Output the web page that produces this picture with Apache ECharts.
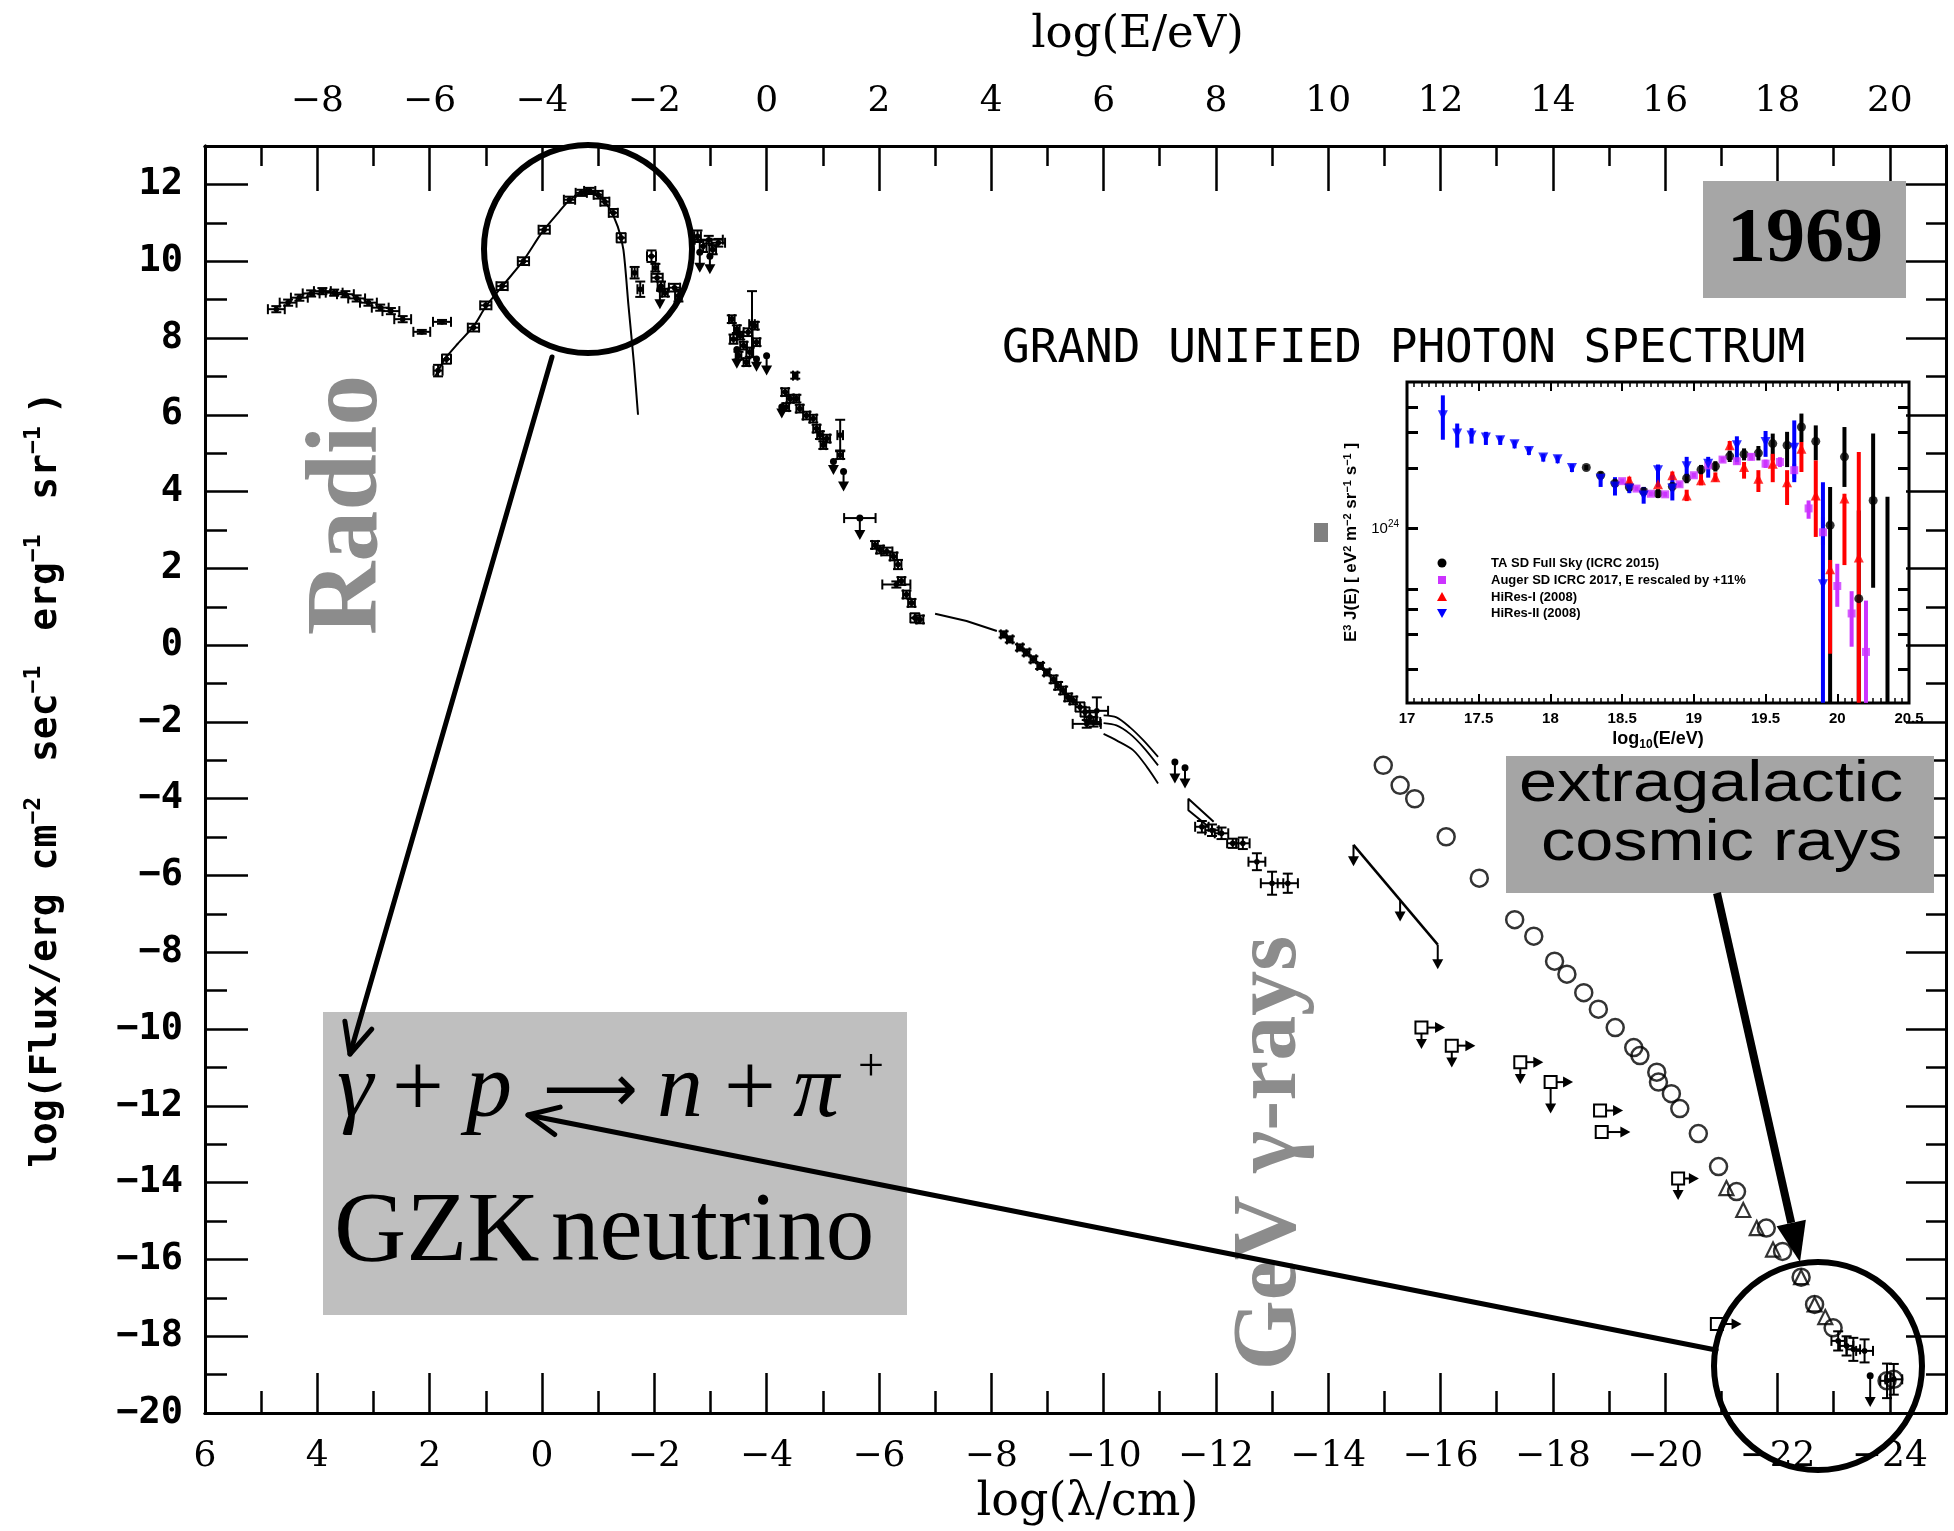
<!DOCTYPE html>
<html><head><meta charset="utf-8">
<script src="https://cdn.jsdelivr.net/npm/echarts@6/dist/echarts.min.js"></script>
<style>html,body{margin:0;padding:0;background:#fff}#c{width:1954px;height:1531px}</style>
</head><body><div id="c"></div>
<script>
// ---------------- tick values ----------------
const lambdaMajor = [6,4,2,0,-2,-4,-6,-8,-10,-12,-14,-16,-18,-20,-22,-24];
const lambdaMinor = [5,3,1,-1,-3,-5,-7,-9,-11,-13,-15,-17,-19,-21,-23,-25];
const energyMajor = [-10,-8,-6,-4,-2,0,2,4,6,8,10,12,14,16,18,20];
const energyLabels = [-8,-6,-4,-2,0,2,4,6,8,10,12,14,16,18,20];
const energyMinor = [-9,-7,-5,-3,-1,1,3,5,7,9,11,13,15,17,19,21];
const fluxMajor = [-20,-18,-16,-14,-12,-10,-8,-6,-4,-2,0,2,4,6,8,10,12];
const fluxMinor = [-19,-17,-15,-13,-11,-9,-7,-5,-3,-1,1,3,5,7,9,11,13];
const insetYTicks = [0.2,0.3,0.4,0.5,1,2,3,4]; // x 1e24

// ---------------- main data: [logλ, logFlux, dx, dy] ----------------
const radioPts = [[4.73,8.75,0.15,0.08],[4.52,8.92,0.15,0.08],[4.32,9.05,0.15,0.08],[4.11,9.16,0.15,0.08],[3.91,9.22,0.15,0.08],[3.70,9.18,0.15,0.08],[3.50,9.14,0.15,0.08],[3.30,9.03,0.15,0.08],[3.09,8.92,0.15,0.08],[2.88,8.79,0.15,0.08],[2.69,8.70,0.15,0.08],[2.48,8.49,0.15,0.08],[2.14,8.16,0.15,0.05],[1.78,8.42,0.16,0.05]];
const cmbPts = [[1.85,7.15,0.08,0.15],[1.70,7.45,0.08,0.12],[1.22,8.27,0.1,0.1],[1.0,8.85,0.1,0.1],[0.71,9.35,0.1,0.1],[0.33,10.0,0.1,0.1],[-0.04,10.82,0.1,0.1],[-0.49,11.6,0.1,0.08],[-0.70,11.78,0.1,0.08],[-0.85,11.83,0.1,0.08],[-1.0,11.73,0.08,0.1],[-1.12,11.55,0.08,0.1],[-1.27,11.26,0.08,0.1],[-1.41,10.61,0.08,0.12]];
const cmbCurve = [[1.90,7.0],[1.73,7.45],[1.50,7.85],[1.22,8.3],[1.0,8.82],[0.70,9.36],[0.33,10.02],[0.0,10.75],[-0.30,11.28],[-0.50,11.6],[-0.80,11.83],[-1.0,11.74],[-1.20,11.38],[-1.35,10.9],[-1.45,10.3],[-1.54,8.85],[-1.64,7.3],[-1.71,6.0]];
const irPts = [[-1.65,9.70,0.05,0.15],[-1.75,9.27,0.05,0.2],[-1.95,10.13,0.08,0.15],[-2.02,9.83,0.05,0.1],[-2.05,9.57,0.1,0.1],[-2.12,9.35,0.06,0.12],[-2.19,9.18,0.05,0.1],[-2.36,9.31,0.1,0.1],[-2.43,9.1,0.06,0.15],[-2.77,10.65,0.06,0.15],[-2.87,10.39,0.06,0.15],[-2.97,10.56,0.25,0.1],[-3.04,10.30,0.06,0.12],[-3.14,10.48,0.12,0.1]];
const opticalPts = [[-3.38,8.49,0.05,0.1],[-3.47,8.23,0.05,0.1],[-3.41,7.97,0.06,0.12],[-3.53,8.06,0.05,0.1],[-3.59,7.80,0.06,0.1],[-3.50,7.54,0.05,0.1],[-3.67,8.15,0.08,0.1],[-3.70,7.63,0.06,0.12],[-3.64,7.37,0.05,0.1],[-3.82,7.89,0.06,0.1],[-3.79,8.32,0.05,0.1],[-3.74,8.36,0.05,0.86]];
const uvPts = [[-4.51,7.02,0.04,0.08],[-4.33,6.59,0.06,0.1],[-4.42,6.42,0.06,0.1],[-4.53,6.42,0.05,0.1],[-4.35,6.20,0.05,0.1],[-4.59,6.16,0.06,0.1],[-4.71,5.98,0.06,0.1],[-4.83,5.90,0.06,0.1],[-4.89,5.64,0.06,0.1],[-4.95,5.47,0.05,0.1],[-5.07,5.38,0.06,0.1],[-5.01,5.21,0.05,0.1],[-5.31,5.47,0.05,0.4],[-5.31,4.95,0.05,0.1]];
const euvPts = [[-5.66,3.31,0.28,0],[-5.93,2.61,0.05,0.1],[-6.02,2.49,0.06,0.1],[-6.14,2.44,0.1,0.1],[-6.26,2.31,0.06,0.1],[-6.34,2.10,0.06,0.12],[-6.40,1.67,0.06,0.1],[-6.31,1.58,0.25,0.08],[-6.49,1.32,0.06,0.1],[-6.58,1.10,0.06,0.1],[-6.64,0.71,0.08,0.12],[-6.73,0.67,0.06,0.1]];
const xrayPts = [[-8.22,0.28,0.05,0.08],[-8.33,0.15,0.05,0.08],[-8.51,-0.06,0.05,0.08],[-8.63,-0.19,0.05,0.08],[-8.75,-0.37,0.05,0.08],[-8.87,-0.54,0.05,0.08],[-8.99,-0.71,0.05,0.08],[-9.11,-0.89,0.05,0.1],[-9.19,-1.06,0.05,0.1],[-9.28,-1.18,0.05,0.1],[-9.37,-1.36,0.06,0.1],[-9.46,-1.44,0.06,0.1],[-9.58,-1.61,0.08,0.12],[-9.67,-1.74,0.08,0.12],[-9.76,-1.87,0.1,0.12],[-9.82,-2.0,0.12,0.12],[-9.88,-1.71,0.2,0.35],[-9.70,-2.05,0.25,0.1]];
const xrayLine = [[-7.0,0.82],[-7.56,0.63],[-8.1,0.37]];
const xrayBand1 = [[-10.0,-1.83],[-10.23,-1.88],[-10.47,-2.14],[-10.71,-2.48],[-10.97,-2.91]];
const xrayBand2 = [[-10.0,-2.03],[-10.23,-2.09],[-10.47,-2.31],[-10.71,-2.66],[-10.97,-3.13]];
const xrayBand3 = [[-10.0,-2.31],[-10.23,-2.48],[-10.53,-2.74],[-10.77,-3.17],[-10.97,-3.6]];
const wedgeLine = [[-11.96,-4.6],[-11.51,-4.0],[-11.51,-4.3],[-11.87,-4.73]];
const gammaBoxPts = [[-11.75,-4.73,0.12,0.15],[-11.93,-4.82,0.12,0.15],[-12.1,-4.9,0.12,0.15],[-12.3,-5.16,0.1,0.12],[-12.48,-5.16,0.12,0.15],[-12.73,-5.64,0.15,0.22],[-13.0,-6.2,0.2,0.3],[-13.28,-6.2,0.18,0.25]];
const gammaLimitLine = [[-14.45,-5.2],[-15.95,-7.8]];
const crTailPts = [[-23.08,-18.12,0.12,0.25],[-23.23,-18.25,0.12,0.25],[-23.35,-18.34,0.12,0.3],[-23.55,-18.38,0.15,0.3],[-23.95,-19.16,0.12,0.45],[-24.07,-19.12,0.15,0.4]];
// upper limits: [logλ, logFlux, arrow end, dot(1/0)]
const upperLimits = [[-2.1,9.27,8.75,1],[-2.81,10.23,9.7,1],[-2.99,10.13,9.66,1],[-3.47,7.7,7.2,1],[-3.82,7.45,7.12,1],[-4.0,7.54,7.02,1],[-4.27,6.2,5.9,1],[-5.19,4.78,4.43,1],[-5.37,4.52,4.0,1],[-5.66,3.31,2.74,1],[-11.27,-3.04,-3.6,1],[-11.45,-3.19,-3.73,1],[-14.45,-5.2,-5.76,0],[-15.28,-6.63,-7.2,0],[-15.95,-7.8,-8.44,0],[-23.65,-19.03,-19.84,1]];
// lower-limit boxes: [logλ, logFlux, right arrow end, down arrow end]
const limitBoxes = [[-15.66,-9.96,-16.08,-10.52],[-16.2,-10.43,-16.62,-11.0],[-17.42,-10.86,-17.83,-11.43],[-17.96,-11.38,-18.36,-12.2],[-18.84,-12.12,-19.25,null],[-18.87,-12.68,-19.38,null],[-20.23,-13.89,-20.6,-14.45],[-20.92,-17.68,-21.36,null]];
const crCircles = [[-14.98,-3.13],[-15.28,-3.65],[-15.54,-4.0],[-16.10,-4.99],[-16.69,-6.07],[-17.32,-7.15],[-17.66,-7.58],[-18.03,-8.23],[-18.25,-8.57],[-18.55,-9.05],[-18.81,-9.48],[-19.11,-9.96],[-19.44,-10.48],[-19.55,-10.69],[-19.85,-11.12],[-19.88,-11.38],[-20.11,-11.68],[-20.26,-12.07],[-20.59,-12.72],[-20.95,-13.58],[-21.27,-14.23],[-21.8,-15.18],[-22.09,-15.79],[-22.42,-16.46],[-22.66,-17.17],[-22.99,-17.78],[-23.95,-19.16],[-24.07,-19.12]];
const crTriangles = [[-21.09,-14.14],[-21.39,-14.71],[-21.63,-15.18],[-21.92,-15.74],[-22.42,-16.46],[-22.66,-17.17],[-22.85,-17.5]];

// ---------------- inset data: [log10(E/eV), E^3 J (x1e24), low, high] ----------------
const taPts = [[18.25,2.01,1.95,2.07],[18.35,1.84,1.76,1.92],[18.45,1.68,1.60,1.76],[18.55,1.61,1.53,1.69],[18.65,1.53,1.45,1.61],[18.75,1.49,1.42,1.57],[18.85,1.62,1.53,1.71],[18.95,1.78,1.68,1.88],[19.05,1.96,1.85,2.07],[19.15,2.04,1.92,2.16],[19.25,2.29,2.14,2.44],[19.35,2.34,2.18,2.50],[19.45,2.37,2.18,2.57],[19.55,2.64,2.18,2.96],[19.65,2.59,2.02,3.02],[19.75,3.19,2.69,3.72],[19.85,2.71,2.18,3.25],[19.95,1.04,0.137,1.61],[20.05,2.27,1.61,3.19],[20.15,0.45,0.137,1.23],[20.25,1.38,0.51,2.96],[20.35,null,0.137,1.44]];
const augerPts = [[18.5,1.72,1.67,1.77],[18.6,1.58,1.54,1.62],[18.7,1.49,1.45,1.53],[18.8,1.48,1.44,1.52],[18.9,1.66,1.61,1.71],[19.0,1.84,1.79,1.89],[19.1,2.06,2.0,2.12],[19.2,2.20,2.13,2.27],[19.3,2.16,2.08,2.24],[19.4,2.27,2.18,2.36],[19.5,2.10,2.0,2.2],[19.6,2.14,2.02,2.26],[19.7,1.95,1.77,2.10],[19.8,1.26,1.12,1.38],[19.9,0.96,0.83,1.14],[20.0,0.52,0.41,0.67],[20.1,0.38,0.26,0.49],[20.2,0.245,0.137,0.44]];
const hires1Pts = [[18.55,1.74,1.67,1.81],[18.75,1.66,1.60,1.72],[18.85,1.84,1.76,1.92],[18.95,1.46,1.37,1.56],[19.05,1.74,1.64,1.86],[19.15,1.80,1.71,1.90],[19.25,2.59,2.46,2.72],[19.35,2.02,1.77,2.14],[19.45,1.77,1.52,1.95],[19.55,2.10,1.70,2.35],[19.65,1.70,1.31,1.95],[19.75,2.49,1.91,2.69],[19.85,1.46,0.91,2.18],[19.95,0.63,0.24,0.70],[20.05,1.41,0.66,1.49],[20.15,0.72,0.137,2.40]];
const hires2Pts = [[17.25,3.65,2.76,4.58],[17.35,2.96,2.52,3.32],[17.45,2.90,2.64,3.15],[17.55,2.83,2.60,3.02],[17.65,2.74,2.60,2.88],[17.75,2.62,2.50,2.74],[17.85,2.43,2.32,2.54],[17.95,2.25,2.15,2.35],[18.05,2.21,2.11,2.31],[18.15,2.0,1.91,2.09],[18.35,1.77,1.61,1.87],[18.45,1.62,1.46,1.80],[18.55,1.58,1.50,1.66],[18.65,1.46,1.33,1.61],[18.75,1.95,1.61,2.08],[18.85,1.58,1.38,1.84],[18.95,2.04,1.82,2.27],[19.1,2.10,1.79,2.27],[19.3,2.59,2.14,2.87],[19.5,2.69,2.27,3.05],[19.7,2.52,1.70,3.44],[19.9,0.53,0.137,1.70]];
const insetNames = ['TA SD Full Sky (ICRC 2015)','Auger SD ICRC 2017, E rescaled by +11%','HiRes-I (2008)','HiRes-II (2008)'];
const insetColors = ['#000000','#cc33ff','#ff0000','#0000ff'];

// ---------------- helpers ----------------
const minus = v => String(v).replace('-', '\u2212');
const lg = v => 24 + Math.log10(v);
const isNum = v => v !== null && v !== undefined && v !== '-' && !isNaN(v);

function errRender(params, api) {
  const x = api.value(0), y = api.value(1), dx = api.value(2), dy = api.value(3);
  const c = api.coord([x, y]); const ch = [];
  const ln = (x1,y1,x2,y2) => ch.push({type:'line', shape:{x1,y1,x2,y2}, style:{stroke:'#000', lineWidth:2}});
  if (dx > 0) { const a = api.coord([x-dx,y]), b = api.coord([x+dx,y]);
    ln(a[0],a[1],b[0],b[1]); ln(a[0],a[1]-5,a[0],a[1]+5); ln(b[0],b[1]-5,b[0],b[1]+5); }
  if (dy > 0) { const a = api.coord([x,y-dy]), b = api.coord([x,y+dy]);
    ln(a[0],a[1],b[0],b[1]); ln(a[0]-5,a[1],a[0]+5,a[1]); ln(b[0]-5,b[1],b[0]+5,b[1]); }
  ch.push({type:'circle', shape:{cx:c[0], cy:c[1], r:2.8}, style:{fill:'#000'}});
  return {type:'group', children:ch};
}
function ulRender(params, api) {
  const x = api.value(0), y = api.value(1), ye = api.value(2), dot = api.value(3);
  const a = api.coord([x,y]), b = api.coord([x,ye]); const ch = [];
  ch.push({type:'line', shape:{x1:a[0],y1:a[1],x2:b[0],y2:b[1]-6}, style:{stroke:'#000', lineWidth:2}});
  ch.push({type:'polygon', shape:{points:[[b[0]-5.5,b[1]-10],[b[0]+5.5,b[1]-10],[b[0],b[1]]]}, style:{fill:'#000'}});
  if (dot > 0) ch.push({type:'circle', shape:{cx:a[0],cy:a[1],r:3.5}, style:{fill:'#000'}});
  return {type:'group', children:ch};
}
function boxRender(params, api) {
  const x = api.value(0), y = api.value(1), xe = api.value(2), ye = api.value(3);
  const c = api.coord([x,y]); const ch = [];
  ch.push({type:'rect', shape:{x:c[0]-6, y:c[1]-6, width:12, height:12}, style:{fill:'#fff', stroke:'#000', lineWidth:2}});
  const r = api.coord([xe,y]);
  ch.push({type:'line', shape:{x1:c[0]+6,y1:c[1],x2:r[0]-6,y2:c[1]}, style:{stroke:'#000', lineWidth:2}});
  ch.push({type:'polygon', shape:{points:[[r[0]-10,c[1]-5.5],[r[0]-10,c[1]+5.5],[r[0],c[1]]]}, style:{fill:'#000'}});
  if (isNum(ye)) { const d = api.coord([x,ye]);
    ch.push({type:'line', shape:{x1:c[0],y1:c[1]+6,x2:c[0],y2:d[1]-6}, style:{stroke:'#000', lineWidth:2}});
    ch.push({type:'polygon', shape:{points:[[c[0]-5.5,d[1]-10],[c[0]+5.5,d[1]-10],[c[0],d[1]]]}, style:{fill:'#000'}}); }
  return {type:'group', children:ch};
}
function insetBarRender(color) {
  return function(params, api) {
    const x = api.value(0), lo = api.value(1), hi = api.value(2);
    const a = api.coord([x, lo]), b = api.coord([x, hi]);
    return {type:'line', shape:{x1:a[0],y1:a[1],x2:b[0],y2:b[1]}, style:{stroke:color, lineWidth:4}};
  };
}
const errSeries = d => ({type:'custom', xAxisIndex:0, yAxisIndex:0, renderItem:errRender, data:d, silent:true, z:4});
const lineSeries = (d, w, smooth) => ({type:'line', xAxisIndex:0, yAxisIndex:0, data:d, showSymbol:false, symbol:'none', smooth:smooth||false, lineStyle:{color:'#000', width:w}, silent:true, z:3});

// ---------------- axes ----------------
const mainTickStyle = {color:'#000', width:2.5};
function mainX(pos, min, max, inv, ticks, len, labels, extra) {
  return Object.assign({gridIndex:0, type:'value', position:pos, min, max, inverse:inv,
    axisLine:{show:true, onZero:false, lineStyle:{color:'#000', width:3}},
    axisTick:{show:true, inside:true, length:len, customValues:ticks, lineStyle:mainTickStyle},
    axisLabel: labels ? {show:true, customValues:labels, formatter:minus, fontFamily:'DejaVu Serif', fontSize:36, color:'#000', margin:26} : {show:false},
    splitLine:{show:false}}, extra||{});
}
function mainY(pos, ticks, len, labels, extra) {
  return Object.assign({gridIndex:0, type:'value', position:pos, min:-20, max:13,
    axisLine:{show:true, onZero:false, lineStyle:{color:'#000', width:3}},
    axisTick:{show:true, inside:true, length:len, customValues:ticks, lineStyle:mainTickStyle},
    axisLabel: labels ? {show:true, customValues:labels, formatter:minus, fontFamily:'DejaVu Sans Mono', fontWeight:'bold', fontSize:37, color:'#000', margin:22} : {show:false},
    splitLine:{show:false}}, extra||{});
}
const xAxes = [
  mainX('bottom', -25, 6, true, lambdaMajor, 40, lambdaMajor, {name:'log(\u03bb/cm)', nameLocation:'middle', nameGap:64, nameTextStyle:{fontFamily:'DejaVu Serif', fontSize:46, color:'#000', padding:[0,0,0,24]}}),
  mainX('bottom', -25, 6, true, lambdaMinor, 22, null),
  mainX('top', -10, 21, false, energyMajor, 45, energyLabels, {name:'log(E/eV)', nameLocation:'middle', nameGap:88, nameTextStyle:{fontFamily:'DejaVu Serif', fontSize:45, color:'#000', padding:[0,0,0,124]}}),
  mainX('top', -10, 21, false, energyMinor, 20, null),
  {gridIndex:1, type:'value', position:'bottom', min:17, max:20.5, interval:0.5,
    axisLine:{show:false, onZero:false}, axisTick:{show:true, inside:true, length:9, lineStyle:{color:'#000', width:2}},
    minorTick:{show:true, splitNumber:10, length:5, lineStyle:{color:'#000', width:1.5}},
    axisLabel:{show:true, fontFamily:'Liberation Sans', fontWeight:'bold', fontSize:15, color:'#000', margin:8},
    splitLine:{show:false}, minorSplitLine:{show:false},
    name:'log{s|10}(E/eV)', nameLocation:'middle', nameGap:24,
    nameTextStyle:{fontFamily:'Liberation Sans', fontWeight:'bold', fontSize:18, color:'#000', rich:{s:{fontFamily:'Liberation Sans', fontWeight:'bold', fontSize:12, verticalAlign:'bottom', padding:[12,0,0,0]}}}},
  {gridIndex:1, type:'value', position:'top', min:17, max:20.5, interval:0.5,
    axisLine:{show:false, onZero:false}, axisTick:{show:true, inside:true, length:9, lineStyle:{color:'#000', width:2}},
    minorTick:{show:true, splitNumber:10, length:5, lineStyle:{color:'#000', width:1.5}},
    axisLabel:{show:false}, splitLine:{show:false}, minorSplitLine:{show:false}}
];
const insetTickVals = insetYTicks.map(lg);
const yAxes = [
  mainY('left', fluxMajor, 43, fluxMajor, {name:'log(Flux/erg cm{s|\u22122} sec{s|\u22121} erg{s|\u22121} sr{s|\u22121})', nameLocation:'middle', nameRotate:90, nameGap:136,
    nameTextStyle:{fontFamily:'DejaVu Sans Mono', fontWeight:'bold', fontSize:38, color:'#000', lineHeight:46,
      rich:{s:{fontFamily:'DejaVu Sans Mono', fontWeight:'bold', fontSize:23, verticalAlign:'top', lineHeight:46, padding:[0,12,18,0]}}}}),
  mainY('left', fluxMinor, 22, null),
  mainY('right', fluxMajor, 40, null),
  mainY('right', fluxMinor, 20, null),
  {gridIndex:1, type:'value', position:'left', min:23.136, max:24.727,
    axisLine:{show:false, onZero:false}, axisTick:{show:true, inside:true, length:11, customValues:insetTickVals, lineStyle:{color:'#000', width:3}},
    axisLabel:{show:true, customValues:[24], formatter:() => '10{s|24}', fontFamily:'Liberation Sans', fontSize:15, color:'#000', margin:8,
      rich:{s:{fontFamily:'Liberation Sans', fontSize:10, verticalAlign:'top', padding:[0,0,8,0]}}},
    splitLine:{show:false},
    name:'E{s|3} J(E) [ eV{s|2} m{s|\u22122} sr{s|\u22121} s{s|\u22121} ]', nameLocation:'middle', nameRotate:90, nameGap:46,
    nameTextStyle:{fontFamily:'Liberation Sans', fontWeight:'bold', fontSize:17, color:'#000', rich:{s:{fontFamily:'Liberation Sans', fontWeight:'bold', fontSize:11, verticalAlign:'top', padding:[0,0,8,0]}}}},
  {gridIndex:1, type:'value', position:'right', min:23.136, max:24.727,
    axisLine:{show:false, onZero:false}, axisTick:{show:true, inside:true, length:11, customValues:insetTickVals, lineStyle:{color:'#000', width:3}},
    axisLabel:{show:false}, splitLine:{show:false}}
];

// ---------------- series ----------------
const series = [
  lineSeries(cmbCurve, 2, 0.25),
  lineSeries(xrayLine, 2),
  lineSeries(xrayBand1, 1.8, 0.3),
  lineSeries(xrayBand2, 1.8, 0.3),
  lineSeries(xrayBand3, 1.8, 0.3),
  lineSeries(wedgeLine, 2),
  lineSeries(gammaLimitLine, 2.5),
  errSeries(radioPts), errSeries(cmbPts), errSeries(irPts), errSeries(opticalPts), errSeries(uvPts),
  errSeries(euvPts), errSeries(xrayPts), errSeries(gammaBoxPts), errSeries(crTailPts),
  {type:'custom', xAxisIndex:0, yAxisIndex:0, renderItem:ulRender, data:upperLimits, silent:true, z:4},
  {type:'custom', xAxisIndex:0, yAxisIndex:0, renderItem:boxRender, data:limitBoxes, silent:true, z:4},
  {type:'scatter', xAxisIndex:0, yAxisIndex:0, data:crCircles, symbol:'circle', symbolSize:17, itemStyle:{color:'rgba(255,255,255,0)', borderColor:'#000', borderWidth:2.5}, silent:true, z:5},
  {type:'scatter', xAxisIndex:0, yAxisIndex:0, data:crTriangles, symbol:'triangle', symbolSize:14, itemStyle:{color:'rgba(255,255,255,0)', borderColor:'#000', borderWidth:2.2}, silent:true, z:5}
];
const insetSets = [taPts, augerPts, hires1Pts, hires2Pts];
const insetSymbols = ['circle','rect','triangle','triangle'];
const insetSizes = [9, 8, 10, 10];
insetSets.forEach((set, i) => {
  series.push({type:'custom', xAxisIndex:4, yAxisIndex:4, renderItem:insetBarRender(insetColors[i]), clip:true,
    data:set.map(p => [p[0], lg(p[2]), lg(p[3])]), silent:true, z:6});
});
insetSets.forEach((set, i) => {
  series.push({type:'scatter', name:insetNames[i], xAxisIndex:4, yAxisIndex:4, clip:true,
    data:set.map(p => [p[0], p[1] === null ? '-' : lg(p[1])]),
    symbol:insetSymbols[i], symbolRotate: i === 3 ? 180 : 0, symbolSize:insetSizes[i],
    itemStyle:{color:insetColors[i]}, silent:true, z:7});
});

// ---------------- annotations ----------------
function arrowEls(x1,y1,x2,y2,w,hl,hw,filled) {
  const dx=x2-x1, dy=y2-y1, L=Math.hypot(dx,dy), ux=dx/L, uy=dy/L, px=-uy, py=ux;
  const bx=x2-ux*hl, by=y2-uy*hl;
  if (filled) return [
    {type:'line', z:60, shape:{x1,y1,x2:bx,y2:by}, style:{stroke:'#000', lineWidth:w}},
    {type:'polygon', z:60, shape:{points:[[x2,y2],[bx+px*hw,by+py*hw],[bx-px*hw,by-py*hw]]}, style:{fill:'#000'}}];
  return [
    {type:'line', z:60, shape:{x1,y1,x2,y2}, style:{stroke:'#000', lineWidth:w, lineCap:'round'}},
    {type:'polyline', z:60, shape:{points:[[bx+px*hw,by+py*hw],[x2,y2],[bx-px*hw,by-py*hw]]}, style:{stroke:'#000', lineWidth:w, fill:null, lineCap:'round', lineJoin:'round'}}];
}
const T = (o) => Object.assign({type:'text', z:55}, o);
const graphic = [
  // Radio / GeV labels
  T({x:350, y:505, rotation:Math.PI/2, style:{text:'Radio', font:'bold 102px "Liberation Serif"', fill:'#8c8c8c', align:'center', verticalAlign:'middle'}}),
  T({x:1272, y:1153, rotation:Math.PI/2, style:{text:'GeV \u03b3-rays', font:'bold 90px "Liberation Serif"', fill:'#8c8c8c', align:'center', verticalAlign:'middle'}}),
  // 1969 box
  {type:'rect', z:50, shape:{x:1703, y:181, width:203, height:117}, style:{fill:'#a6a6a6'}},
  T({x:1805, y:241, style:{text:'1969', font:'bold 78px "Liberation Serif"', fill:'#000', align:'center', verticalAlign:'middle'}}),
  // GZK box
  {type:'rect', z:50, shape:{x:323, y:1012, width:584, height:303}, style:{fill:'#bfbfbf'}},
  T({x:337, y:1092, style:{text:'\u03b3', font:'italic 92px "Liberation Serif"', fill:'#000', verticalAlign:'middle'}}),
  T({x:392, y:1092, style:{text:'+', font:'92px "Liberation Serif"', fill:'#000', verticalAlign:'middle'}}),
  T({x:466, y:1092, style:{text:'p', font:'italic 92px "Liberation Serif"', fill:'#000', verticalAlign:'middle'}}),
  T({x:543, y:1094, style:{text:'\u27f6', font:'66px "DejaVu Sans"', fill:'#000', verticalAlign:'middle'}}),
  T({x:657, y:1092, style:{text:'n', font:'italic 92px "Liberation Serif"', fill:'#000', verticalAlign:'middle'}}),
  T({x:724, y:1092, style:{text:'+', font:'92px "Liberation Serif"', fill:'#000', verticalAlign:'middle'}}),
  T({x:793, y:1092, style:{text:'\u03c0', font:'italic 92px "Liberation Serif"', fill:'#000', verticalAlign:'middle'}}),
  T({x:858, y:1068, style:{text:'+', font:'46px "Liberation Serif"', fill:'#000', verticalAlign:'middle'}}),
  T({x:334, y:1234, style:{text:'GZK', font:'100px "Liberation Serif"', fill:'#000', verticalAlign:'middle'}}),
  T({x:551, y:1234, style:{text:'neutrino', font:'97px "Liberation Serif"', fill:'#000', verticalAlign:'middle'}}),
  // extragalactic cosmic rays box
  {type:'rect', z:50, shape:{x:1506, y:756, width:428, height:137}, style:{fill:'#a5a5a5'}},
  T({x:1519, y:785, scaleX:1.18, style:{text:'extragalactic', font:'58px "Liberation Sans"', fill:'#000', verticalAlign:'middle'}}),
  T({x:1541, y:844, scaleX:1.18, style:{text:'cosmic rays', font:'58px "Liberation Sans"', fill:'#000', verticalAlign:'middle'}}),
  // small grey mark left of inset
  {type:'rect', z:50, shape:{x:1314, y:523, width:14, height:19}, style:{fill:'#808080'}},
  // circles
  {type:'circle', z:58, shape:{cx:588, cy:249, r:104}, style:{fill:null, stroke:'#000', lineWidth:6}},
  {type:'circle', z:58, shape:{cx:1818, cy:1366, r:104}, style:{fill:null, stroke:'#000', lineWidth:6}},
  // inset legend
  {type:'circle', z:60, shape:{cx:1442, cy:563, r:4.5}, style:{fill:'#000'}},
  {type:'rect', z:60, shape:{x:1438, y:576, width:8, height:8}, style:{fill:'#cc33ff'}},
  {type:'polygon', z:60, shape:{points:[[1442,592],[1437,601],[1447,601]]}, style:{fill:'#ff0000'}},
  {type:'polygon', z:60, shape:{points:[[1437,609],[1447,609],[1442,618]]}, style:{fill:'#0000ff'}},
  T({z:60, x:1491, y:563, style:{text:insetNames[0], font:'bold 13px "Liberation Sans"', fill:'#000', verticalAlign:'middle'}}),
  T({z:60, x:1491, y:580, style:{text:insetNames[1], font:'bold 13px "Liberation Sans"', fill:'#000', verticalAlign:'middle'}}),
  T({z:60, x:1491, y:597, style:{text:insetNames[2], font:'bold 13px "Liberation Sans"', fill:'#000', verticalAlign:'middle'}}),
  T({z:60, x:1491, y:613, style:{text:insetNames[3], font:'bold 13px "Liberation Sans"', fill:'#000', verticalAlign:'middle'}})
].concat(
  arrowEls(552, 357, 350, 1054, 5, 30, 14, false),
  arrowEls(1716, 1350, 528, 1115, 5, 30, 14, false),
  arrowEls(1717, 893, 1800, 1262, 8, 40, 15, true)
);

const chart = echarts.init(document.getElementById('c'), null, {renderer:'canvas'});
chart.setOption({
  animation:false,
  backgroundColor:'#fff',
  title:{text:'GRAND UNIFIED PHOTON SPECTRUM', left:997, top:322, textStyle:{fontFamily:'DejaVu Sans Mono', fontSize:46, fontWeight:'normal', color:'#000'}},
  grid:[{left:205, right:8, top:146, bottom:112, containLabel:false},
        {left:1407, right:45, top:382, bottom:828, containLabel:false, show:true, backgroundColor:'#fff', borderColor:'#000', borderWidth:3}],
  xAxis:xAxes, yAxis:yAxes, series:series, graphic:{elements:graphic}
});
</script></body></html>
